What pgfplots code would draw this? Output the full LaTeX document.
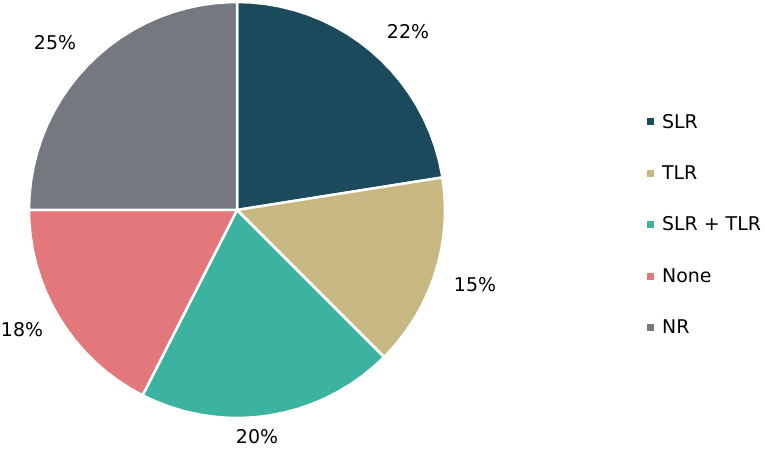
\documentclass[border=0pt]{standalone}
\usepackage{fontspec}
\setmainfont{DejaVu Sans}
\usepackage{pgfplots}
\pgfplotsset{compat=1.18}
\definecolor{cSLR}{RGB}{27,74,92}
\definecolor{cTLR}{RGB}{199,184,130}
\definecolor{cBoth}{RGB}{59,179,160}
\definecolor{cNone}{RGB}{226,119,124}
\definecolor{cNR}{RGB}{118,120,128}
\begin{document}
\begin{tikzpicture}
\begin{axis}[
  width=765bp, height=453bp, scale only axis,
  xmin=-237, xmax=528, ymin=-243, ymax=210,
  hide axis, clip=false,
  data cs=polar,
  legend cell align=left,
  legend style={draw=none, fill=none, at={(0.846,0.752)}, anchor=north west,
    font=\fontsize{19}{22}\selectfont, row sep=33bp, inner sep=0pt,
    nodes={inner sep=1.5pt}},
  legend image code/.code={\fill[#1,draw=none] (0bp,-3.5bp) rectangle (7bp,3.5bp); \path (12bp,0bp);},
  every axis plot/.append style={draw=white, line width=2.5bp, line join=round},
]
\addplot[fill=cSLR] coordinates {(0,0) (90,208) (86,208) (82,208) (78,208) (74,208) (70,208) (66,208) (62,208) (58,208) (54,208) (50,208) (46,208) (42,208) (38,208) (34,208) (30,208) (26,208) (22,208) (18,208) (14,208) (10,208) (9,208) (0,0)} -- cycle;
\addlegendentry{SLR}
\addplot[fill=cTLR] coordinates {(0,0) (9,208) (5,208) (1,208) (-3,208) (-7,208) (-11,208) (-15,208) (-19,208) (-23,208) (-27,208) (-31,208) (-35,208) (-39,208) (-43,208) (-45,208) (0,0)} -- cycle;
\addlegendentry{TLR}
\addplot[fill=cBoth] coordinates {(0,0) (-45,208) (-49,208) (-53,208) (-57,208) (-61,208) (-65,208) (-69,208) (-73,208) (-77,208) (-81,208) (-85,208) (-89,208) (-93,208) (-97,208) (-101,208) (-105,208) (-109,208) (-113,208) (-117,208) (0,0)} -- cycle;
\addlegendentry{SLR + TLR}
\addplot[fill=cNone] coordinates {(0,0) (-117,208) (-121,208) (-125,208) (-129,208) (-133,208) (-137,208) (-141,208) (-145,208) (-149,208) (-153,208) (-157,208) (-161,208) (-165,208) (-169,208) (-173,208) (-177,208) (-180,208) (0,0)} -- cycle;
\addlegendentry{None}
\addplot[fill=cNR] coordinates {(0,0) (180,208) (176,208) (172,208) (168,208) (164,208) (160,208) (156,208) (152,208) (148,208) (144,208) (140,208) (136,208) (132,208) (128,208) (124,208) (120,208) (116,208) (112,208) (108,208) (104,208) (100,208) (96,208) (92,208) (90,208) (0,0)} -- cycle;
\addlegendentry{NR}
\path (axis cs:-237,-243) rectangle (axis cs:528,210);
\begin{scope}[every node/.style={font=\fontsize{19}{22}\selectfont, inner sep=0pt}]
\node at (axis cs:171,178) {22\%};
\node at (axis cs:238,-75) {15\%};
\node at (axis cs:20,-227) {20\%};
\node at (axis cs:-215,-120) {18\%};
\node at (axis cs:-182,167) {25\%};
\end{scope}
\end{axis}
\end{tikzpicture}
\end{document}
